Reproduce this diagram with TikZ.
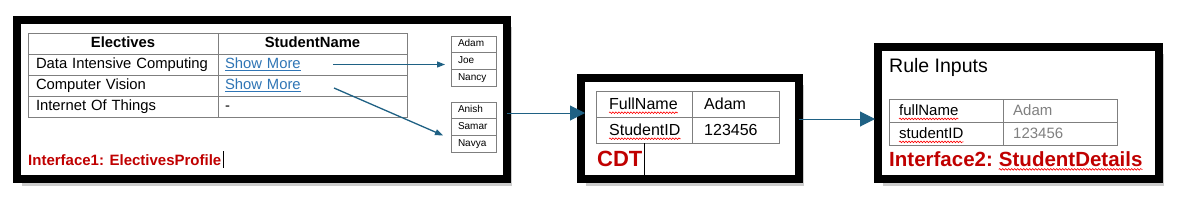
\documentclass[tikz,border=0pt]{standalone}
\usepackage{fontspec}
\setmainfont{Liberation Sans}
\usepackage{xcolor}
\usetikzlibrary{arrows.meta, positioning, shadows, decorations.pathmorphing}

\definecolor{tealarr}{HTML}{1F6184}
\definecolor{linkblue}{HTML}{2F75B5}
\definecolor{ifred}{HTML}{C00000}
\definecolor{tline}{HTML}{7F7F7F}
\definecolor{valgray}{HTML}{808080}

\begin{document}
\begin{tikzpicture}[x=1pt, y=-1pt,
    frame/.style={draw=black, line width=8pt, fill=white, outer sep=0pt, inner sep=0pt, drop shadow={shadow xshift=5pt, shadow yshift=-7pt, fill=black, opacity=0.2}},
    cell/.style={draw=tline, line width=0.8pt, outer sep=0pt, inner ysep=0pt, align=left},
    tabA/.style={cell, minimum height=21pt, text height=11pt, text depth=3.5pt, font=\fontsize{14.8}{17}\selectfont},
    colA/.style={tabA, inner xsep=8pt, text width=174pt},
    colB/.style={tabA, inner xsep=7pt, text width=175pt},
    namecell/.style={cell, minimum height=16.7pt, text height=7.5pt, text depth=2.5pt, inner xsep=7pt, text width=31pt, font=\fontsize{10}{12}\selectfont},
    tabB/.style={cell, minimum height=26pt},
    tabC/.style={cell, minimum height=23pt, minimum width=114pt},
    txtB/.style={inner sep=0pt, anchor=west, font=\fontsize{16}{18}\selectfont},
    txtC/.style={inner sep=0pt, anchor=west, font=\fontsize{15}{17}\selectfont},
    redlabel/.style={text=ifred, inner sep=0pt, anchor=west},
    squig/.style={draw=red, line width=0.6pt, decorate, decoration={snake, amplitude=0.8pt, segment length=3pt}},
    smallarr/.style={-{Triangle[length=8pt, width=6pt]}, line width=1.3pt, draw=tealarr},
    bigarr/.style={-{Triangle[length=15pt, width=15pt]}, line width=1pt, draw=tealarr},
    cursor/.style={line width=0.8pt, draw=black}
]
\useasboundingbox (0,0) rectangle (1185,212);

% frames
\node[frame, minimum width=490pt, minimum height=159pt] (box1) at (262,99.5) {};
\node[frame, minimum width=218pt, minimum height=101pt] (box2) at (690,128.5) {};
\node[frame, minimum width=281pt, minimum height=132pt] (box3) at (1018.5,113) {};

% interface 1 table
\node[colA, align=center, anchor=north west] (t1h1) at (28,33) {\bfseries Electives};
\node[colB, align=center, right=0pt of t1h1] (t1h2) {\bfseries StudentName};
\node[colA, below=0pt of t1h1] (t1r1c1) {\mbox{Data Intensive Computing}};
\node[colB, below=0pt of t1h2] (t1r1c2) {\textcolor{linkblue}{\underline{Show More}}};
\node[colA, below=0pt of t1r1c1] (t1r2c1) {Computer Vision};
\node[colB, below=0pt of t1r1c2] (t1r2c2) {\textcolor{linkblue}{\underline{Show More}}};
\node[colA, below=0pt of t1r2c1] (t1r3c1) {Internet Of Things};
\node[colB, below=0pt of t1r2c2] (t1r3c2) {-};

% student lists
\node[namecell, anchor=north west] (nm1a) at (451,36) {Adam};
\node[namecell, below=0pt of nm1a] (nm1b) {Joe};
\node[namecell, below=0pt of nm1b] (nm1c) {Nancy};
\node[namecell, anchor=north west] (nm2a) at (451,102) {Anish};
\node[namecell, below=0pt of nm2a] (nm2b) {Samar};
\node[namecell, below=0pt of nm2b] (nm2c) {Navya};

\node[redlabel, font=\fontsize{15}{17}\selectfont\bfseries] (if1) at (28,160) {Interface1: ElectivesProfile};
\draw[cursor] ([xshift=1.5pt,yshift=3pt]if1.north east) -- ([xshift=1.5pt,yshift=-2pt]if1.south east);

% CDT table
\node[tabB, minimum width=96pt, anchor=north west] (t2r1c1) at (596,91) {};
\node[tabB, minimum width=87pt, right=0pt of t2r1c1] (t2r1c2) {};
\node[tabB, minimum width=96pt, below=0pt of t2r1c1] (t2r2c1) {};
\node[tabB, minimum width=87pt, below=0pt of t2r1c2] (t2r2c2) {};
\node[txtB] (fullnm) at ([xshift=13pt]t2r1c1.west) {FullName};
\node[txtB] (adam1) at ([xshift=12pt]t2r1c2.west) {Adam};
\node[txtB] (stid) at ([xshift=13pt]t2r2c1.west) {StudentID};
\node[txtB] (idval1) at ([xshift=12pt]t2r2c2.west) {123456};
\draw[squig] ([yshift=-3pt]fullnm.base west) -- ([yshift=-3pt]fullnm.base east);
\draw[squig] ([yshift=-3pt]stid.base west) -- ([yshift=-3pt]stid.base east);

\node[redlabel, font=\fontsize{22}{25}\selectfont\bfseries] (cdt) at (597,159) {CDT};
\draw[cursor] ([xshift=2pt]cdt.east |- t2r2c1.south) -- ([xshift=2pt,yshift=4pt]cdt.east |- box2.south);

% interface 2
\node[anchor=west, inner sep=0pt, font=\fontsize{19.5}{22}\selectfont] (rulein) at (889,67) {Rule Inputs};
\node[tabC, anchor=north west] (t3r1c1) at (889,99) {};
\node[tabC, right=0pt of t3r1c1] (t3r1c2) {};
\node[tabC, below=0pt of t3r1c1] (t3r2c1) {};
\node[tabC, below=0pt of t3r1c2] (t3r2c2) {};
\node[txtC] (fullnm2) at ([xshift=10pt]t3r1c1.west) {fullName};
\node[txtC, text=valgray] (adam2) at ([xshift=10pt]t3r1c2.west) {Adam};
\node[txtC] (stid2) at ([xshift=10pt]t3r2c1.west) {studentID};
\node[txtC, text=valgray] (idval2) at ([xshift=10pt]t3r2c2.west) {123456};
\draw[squig] ([yshift=-3pt]fullnm2.base west) -- ([yshift=-3pt]fullnm2.base east);
\draw[squig] ([yshift=-3pt]stid2.base west) -- ([yshift=-3pt]stid2.base east);

\node[redlabel, font=\fontsize{20.5}{23}\selectfont\bfseries] (if2a) at (889,159) {Interface2:};
\node[redlabel, font=\fontsize{20.5}{23}\selectfont\bfseries, anchor=base west] (if2b) at ([xshift=5.7pt]if2a.base east) {StudentDetails};
\draw[squig] ([yshift=-3pt]if2b.base west) -- ([yshift=-3pt]if2b.base east);

% arrows
\draw[smallarr] ([xshift=20.5pt]t1r1c2.center) -- ([xshift=-6pt]nm1b.west |- t1r1c2.center);
\draw[smallarr] ([xshift=21.5pt,yshift=-2.5pt]t1r2c2.center) -- ([xshift=-8pt]nm2c.north west);
\draw[bigarr, shorten >=-4pt] ([yshift=-13.5pt]box1.east) -- ([yshift=15.5pt]box2.west);
\draw[bigarr, shorten >=3pt] ([yshift=9.5pt]box2.east) -- ([yshift=-6pt]box3.west);

\end{tikzpicture}
\end{document}
